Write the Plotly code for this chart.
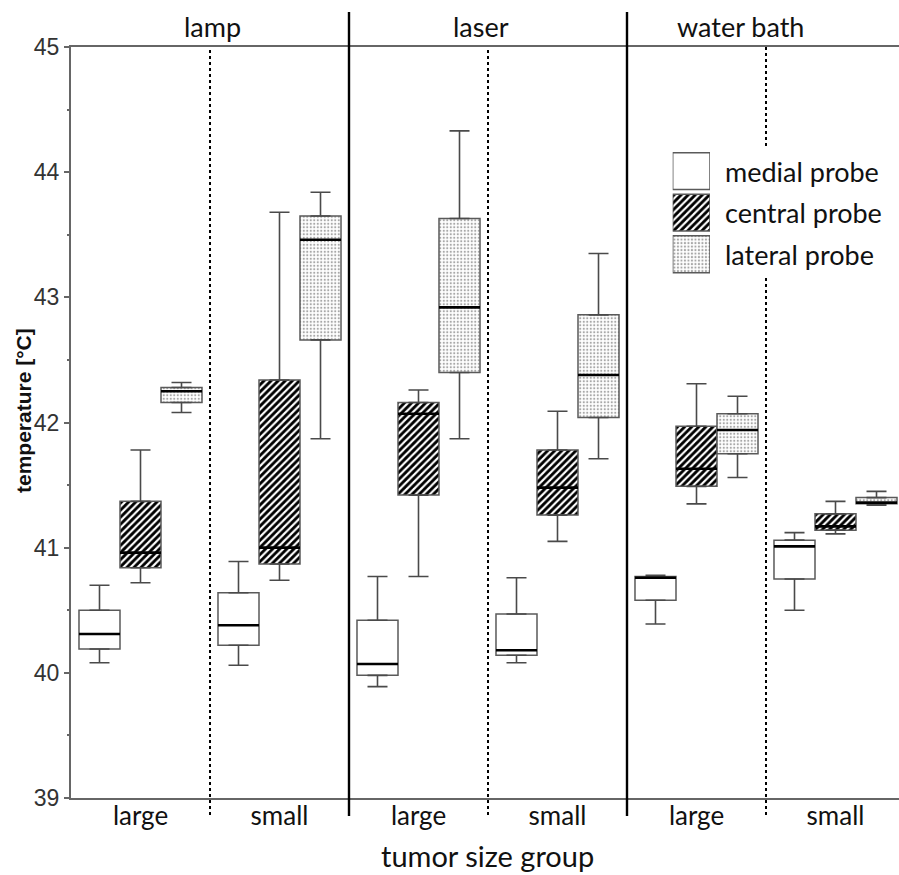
import plotly.graph_objects as go
import numpy as np

# ---------------- data ----------------
methods = ["lamp", "laser", "water bath"]
size_labels = ["large", "small", "large", "small", "large", "small"]
probes = ["medial probe", "central probe", "lateral probe"]

medial_lw  = [40.08, 40.06, 39.89, 40.08, 40.39, 40.50]
medial_q1  = [40.19, 40.22, 39.98, 40.14, 40.58, 40.75]
medial_med = [40.31, 40.38, 40.07, 40.18, 40.76, 41.01]
medial_q3  = [40.50, 40.64, 40.42, 40.47, 40.77, 41.06]
medial_uw  = [40.70, 40.89, 40.77, 40.76, 40.78, 41.12]

central_lw  = [40.72, 40.74, 40.77, 41.05, 41.35, 41.11]
central_q1  = [40.84, 40.87, 41.42, 41.26, 41.49, 41.14]
central_med = [40.96, 41.00, 42.07, 41.48, 41.63, 41.17]
central_q3  = [41.37, 42.34, 42.16, 41.78, 41.97, 41.27]
central_uw  = [41.78, 43.68, 42.26, 42.09, 42.31, 41.37]

lateral_lw  = [42.08, 41.87, 41.87, 41.71, 41.56, 41.34]
lateral_q1  = [42.16, 42.66, 42.40, 42.04, 41.75, 41.35]
lateral_med = [42.25, 43.46, 42.92, 42.38, 41.94, 41.36]
lateral_q3  = [42.28, 43.65, 43.63, 42.86, 42.07, 41.40]
lateral_uw  = [42.32, 43.84, 44.33, 43.35, 42.21, 41.45]

y_ticks = [39, 40, 41, 42, 43, 44, 45]

# ---------------- styles ----------------
W, H = 899, 875
ML, MR, MT, MB = 71, 0, 47, 77
PW, PH = W - ML - MR, H - MT - MB
BOXW = 0.295
OUTLINE = "#5a5a5a"
TXT = "Lato"

patterns = [
    dict(shape="", bgcolor="white", fgcolor="white"),
    dict(shape="/", bgcolor="black", fgcolor="white", size=5, solidity=0.42, fillmode="replace"),
    dict(shape=".", bgcolor="white", fgcolor="#a8a8a8", size=3.5, solidity=0.3, fillmode="replace"),
]
fills = ["white", "black", "white"]

series = [
    (medial_lw, medial_q1, medial_med, medial_q3, medial_uw),
    (central_lw, central_q1, central_med, central_q3, central_uw),
    (lateral_lw, lateral_q1, lateral_med, lateral_q3, lateral_uw),
]

fig = go.Figure()
xc = np.arange(len(size_labels))

for k, (lw, q1, med, q3, uw) in enumerate(series):
    lw, q1, med, q3, uw = map(np.array, (lw, q1, med, q3, uw))
    xs = xc + (k - 1) * BOXW
    # whiskers with caps
    fig.add_trace(go.Scatter(
        x=xs, y=q3, mode="markers", marker=dict(size=1, color="rgba(0,0,0,0)"),
        error_y=dict(type="data", symmetric=False, array=uw - q3, arrayminus=np.zeros(6),
                     color="#4a4a4a", thickness=1.6, width=10),
        showlegend=False, hoverinfo="skip"))
    fig.add_trace(go.Scatter(
        x=xs, y=q1, mode="markers", marker=dict(size=1, color="rgba(0,0,0,0)"),
        error_y=dict(type="data", symmetric=False, array=np.zeros(6), arrayminus=q1 - lw,
                     color="#4a4a4a", thickness=1.6, width=10),
        showlegend=False, hoverinfo="skip"))
    # box body
    fig.add_trace(go.Bar(
        x=xs, y=q3 - q1, base=q1, width=BOXW, name=probes[k],
        marker=dict(color=fills[k], pattern=patterns[k], line=dict(color=OUTLINE, width=1.5)),
        showlegend=False))
    # median
    mx, my = [], []
    for x0, m in zip(xs, med):
        mx += [x0 - BOXW / 2, x0 + BOXW / 2, None]
        my += [m, m, None]
    fig.add_trace(go.Scatter(x=mx, y=my, mode="lines", line=dict(color="black", width=2.6),
                             showlegend=False, hoverinfo="skip"))

# legend swatches on a small helper axis
for k in range(3):
    fig.add_trace(go.Bar(
        x=[1], y=[2 - k], base=[0], orientation="h", width=0.887,
        marker=dict(color=fills[k], pattern=patterns[k], line=dict(color=OUTLINE, width=1.5)),
        xaxis="x2", yaxis="y2", showlegend=False, hoverinfo="skip"))


def px_x(p):
    return (p - ML) / PW


def px_y(p):
    return (H - MB - p) / PH


leg_y = [171, 212.5, 254.5]
annotations = []
for k in range(3):
    annotations.append(dict(text=probes[k], x=px_x(723), y=px_y(leg_y[k]), xref="paper", yref="paper",
                            xanchor="left", yanchor="middle", showarrow=False,
                            font=dict(family=TXT, size=27, color="#111")))
for name, cx in zip(methods, [212, 481, 740]):
    annotations.append(dict(text=name, x=px_x(cx), y=px_y(26), xref="paper", yref="paper",
                            xanchor="center", yanchor="middle", showarrow=False,
                            font=dict(family=TXT, size=27, color="#111")))
annotations.append(dict(text="tumor size group", x=px_x(487), y=px_y(855), xref="paper", yref="paper",
                        xanchor="center", yanchor="middle", showarrow=False,
                        font=dict(family=TXT, size=29, color="#111")))
annotations.append(dict(text="<b>temperature [°C]</b>", x=px_x(23), y=px_y(411), xref="paper", yref="paper",
                        xanchor="center", yanchor="middle", showarrow=False, textangle=-90,
                        font=dict(family="Liberation Sans", size=21, color="#111")))

shapes = []
for xv in [1.5, 3.5]:
    shapes.append(dict(type="line", xref="x", yref="paper", x0=xv, x1=xv,
                       y0=px_y(816), y1=px_y(12), line=dict(color="black", width=2.4)))
for xv in [0.5, 2.5]:
    shapes.append(dict(type="line", xref="x", yref="paper", x0=xv, x1=xv,
                       y0=px_y(815), y1=1.0, line=dict(color="black", width=2, dash="dot")))
shapes.append(dict(type="line", xref="x", yref="paper", x0=4.5, x1=4.5,
                   y0=px_y(815), y1=px_y(278), line=dict(color="black", width=2, dash="dot")))
shapes.append(dict(type="line", xref="x", yref="paper", x0=4.5, x1=4.5,
                   y0=px_y(146), y1=1.0, line=dict(color="black", width=2, dash="dot")))

fig.update_layout(
    width=W, height=H,
    margin=dict(l=ML, r=MR, t=MT, b=MB),
    paper_bgcolor="white", plot_bgcolor="white",
    barmode="overlay",
    showlegend=False,
    annotations=annotations,
    shapes=shapes,
    xaxis=dict(range=[-0.5, -0.5 + PW / 139.0], tickvals=list(xc), ticktext=size_labels,
               showgrid=False, zeroline=False, showline=True, mirror=True,
               linecolor="#666", linewidth=2, ticks="", ticklabelstandoff=-6,
               tickfont=dict(family=TXT, size=26, color="#111")),
    yaxis=dict(range=[39, 45], tickvals=y_ticks, showgrid=False, zeroline=False,
               showline=True, linecolor="#666", linewidth=2,
               ticks="outside", ticklen=5, tickcolor="#666", tickwidth=1.5,
               minor=dict(dtick=0.5, ticks="outside", ticklen=2, tickcolor="#666"),
               tickfont=dict(family="Liberation Sans", size=23, color="#333")),
    xaxis2=dict(domain=[px_x(672.7), px_x(710)], range=[0, 1], visible=False, anchor="y2"),
    yaxis2=dict(domain=[px_y(275), px_y(150.3)], range=[-0.5, 2.5], visible=False, anchor="x2"),
)

fig.write_html("out.html")
